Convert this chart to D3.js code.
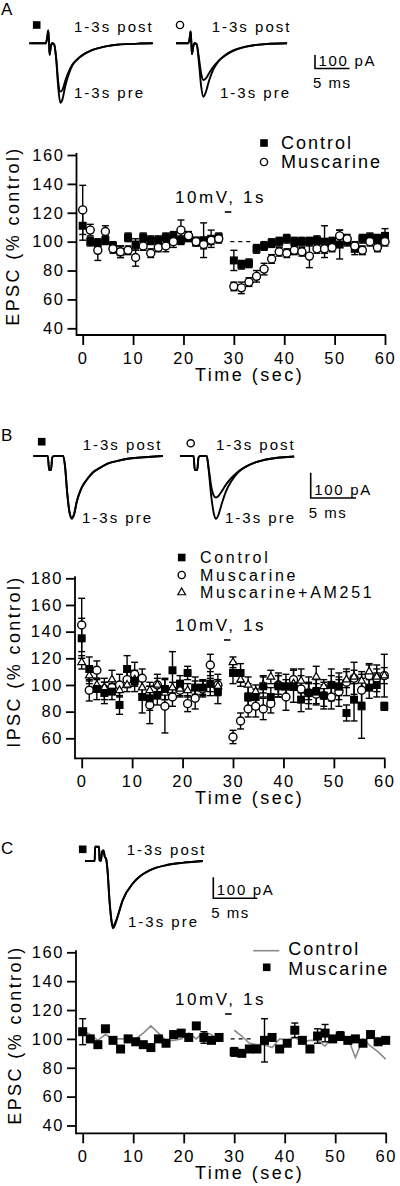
<!DOCTYPE html>
<html><head><meta charset="utf-8">
<script src="https://cdn.jsdelivr.net/npm/d3@7"></script>
<style>
body{margin:0;background:#fff}
svg{display:block}
text{font-family:"Liberation Sans",Arial,Helvetica,sans-serif;fill:#000}
</style>
</head><body>
<svg id="c" width="400" height="1186"></svg>
<script>
// ---------- shared ----------
const timeTicks = [0,10,20,30,40,50,60];
const preT  = [0,1.5,3,4.5,6,7.5,9,10.5,12,13.5,15,16.5,18,19.5,21,22.5,24,25.5,27];
const postT = [30,31.5,33,34.5,36,37.5,39,40.5,42,43.5,45,46.5,48,49.5,51,52.5,54,55.5,57,58.5,60];
const stimWindow = [28.2, 29.5];
const refDash = [29.3, 33.6];

// ---------- panel A ----------
const aYTicks = [40,60,80,100,120,140,160];
const aCtrlPre     = [111,100,99,101,97,93,103,98,103,101,101,103,104,101,103,100,101,102,103];
const aCtrlPreErr  = [10,3,3,3,3,4,3,4,3,3,3,3,3,3,3,3,12,6,3];
const aMusPre      = [122,108,94,107,95,93,94,89,97,92,96,97,100,108,104,100,98,101,102];
const aMusPreErr   = [17,4,7,4,3,4,3,6,3,3,3,4,4,7,3,3,3,3,3];
const aCtrlPost    = [87,84,85,95,97,99,100,102,100,100,100,101,100,100,98,100,95,102,103,102,104];
const aCtrlPostErr = [7,3,3,3,3,3,3,3,3,3,3,3,11,3,10,3,4,3,3,3,5];
const aMusPost     = [69,68,72,76,81,88,93,92,94,93,90,95,95,96,104,102,97,94,100,96,100];
const aMusPostErr  = [3,4,3,4,4,3,3,3,3,3,8,3,3,3,4,3,3,3,3,3,3];
// traces [ms, pA]
const aTracePreL  = [[0,0],[2.4,0],[2.6,45],[2.75,95],[2.85,10],[2.95,-85],[3.1,-30],[3.3,0],[3.6,-8],[3.9,-120],[4.2,-330],[4.5,-440],[4.8,-415],[5.2,-320],[5.7,-230],[6.2,-168],[7,-118],[7.9,-82],[9,-52],[10.3,-32],[11.5,-19],[12.7,-11],[14,-6],[16,-2],[17.9,0]];
const aTracePostL = [[0,0],[2.4,0],[2.6,45],[2.75,95],[2.85,10],[2.95,-85],[3.1,-30],[3.3,0],[3.6,-8],[3.9,-110],[4.2,-290],[4.5,-358],[4.8,-345],[5.2,-280],[5.7,-212],[6.2,-160],[7,-115],[7.9,-80],[9,-52],[10.3,-32],[11.5,-19],[12.7,-11],[14,-6],[16,-2],[17.9,0]];
const aTracePreR  = [[0,0],[1.8,0],[2.0,45],[2.12,88],[2.22,10],[2.32,-80],[2.47,-30],[2.7,0],[3.0,-8],[3.3,-130],[3.65,-320],[3.97,-396],[4.3,-365],[4.8,-275],[5.4,-195],[6.2,-130],[7.2,-84],[8.3,-52],[9.5,-32],[11,-16],[13,-6],[16.1,0]];
const aTracePostR = [[0,0],[1.8,0],[2.0,45],[2.12,88],[2.22,10],[2.32,-80],[2.47,-30],[2.7,0],[3.0,-8],[3.3,-100],[3.65,-225],[3.97,-272],[4.3,-262],[4.8,-222],[5.4,-175],[6.2,-128],[7.2,-88],[8.3,-56],[9.5,-34],[11,-17],[13,-6],[16.1,0]];

// ---------- panel B ----------
const bYTicks = [60,80,100,120,140,160,180];
const bCtrlPre     = [135,112,97,94,95,85,112,103,91,90,92,97,111,101,109,98,98,101,95];
const bCtrlPreErr  = [15,9,8,8,6,7,10,8,12,9,7,8,14,6,5,8,6,9,9];
const bCtrlPost    = [109,109,91,91,99,91,99,99,99,89,94,95,92,100,99,79,89,84,98,100,84];
const bCtrlPostErr = [8,7,10,6,8,7,8,9,12,9,8,9,8,12,10,6,16,24,8,9,3];
const bMusPre      = [145,96,111,97,98,100,104,108,105,85,100,84,91,96,86,90,97,115,100];
const bMusPreErr   = [20,8,7,8,5,8,6,9,7,14,8,20,7,5,6,8,6,8,8];
const bMusPost     = [61,73,82,84,82,86,100,91,104,97,94,93,92,91,95,102,105,96,107,105,107];
const bMusPostErr  = [5,6,6,8,8,7,9,10,8,10,12,8,10,9,11,10,12,9,8,10,16];
const bAmPre       = [117,107,100,98,104,96,100,104,98,96,100,94,98,97,96,98,98,100,99];
const bAmPreErr    = [5,6,5,4,7,5,5,4,5,6,5,5,4,5,5,5,5,5,5];
const bAmPost      = [117,104,100,95,100,106,100,98,101,103,95,106,99,100,98,104,106,103,110,106,107];
const bAmPostErr   = [4,5,6,5,6,5,7,6,5,9,6,8,5,7,6,6,5,7,6,6,6];
const bTracePreL  = [[0,0],[1.6,0],[1.75,-55],[1.95,-56],[2.1,-5],[2.3,0],[3.3,0],[3.5,-40],[3.75,-150],[4.0,-225],[4.25,-248],[4.5,-232],[4.8,-180],[5.3,-128],[5.9,-94],[6.6,-64],[7.4,-46],[8.2,-30],[9.2,-20],[10.4,-11],[11.8,-6],[13,-3],[14.3,0]];
const bTracePostL = [[0,0],[1.6,0],[1.75,-55],[1.95,-56],[2.1,-5],[2.3,0],[3.3,0],[3.5,-40],[3.75,-148],[4.0,-222],[4.25,-244],[4.5,-229],[4.8,-180],[5.3,-128],[5.9,-94],[6.6,-64],[7.4,-46],[8.2,-30],[9.2,-20],[10.4,-11],[11.8,-6],[13,-3],[14.3,0]];
const bTracePreR  = [[0,0],[1.5,0],[1.63,-55],[1.9,-56],[2.05,-5],[2.25,0],[2.95,0],[3.15,-50],[3.45,-160],[3.75,-230],[3.97,-248],[4.25,-232],[4.6,-190],[5.1,-138],[5.7,-98],[6.4,-66],[7.2,-44],[8.1,-28],[9,-18],[10.2,-10],[11.4,-5],[12.6,-2]];
const bTracePostR = [[0,0],[1.5,0],[1.63,-55],[1.9,-56],[2.05,-5],[2.25,0],[2.95,0],[3.15,-45],[3.45,-120],[3.75,-158],[3.97,-164],[4.25,-158],[4.6,-140],[5.1,-112],[5.7,-86],[6.4,-62],[7.2,-43],[8.1,-28],[9,-18],[10.2,-10],[11.4,-5],[12.6,-2]];

// ---------- panel C ----------
const cYTicks = [40,60,80,100,120,140,160];
const cMusPre     = [105,100,96,107,99,93,100,98,96,94,100,97,103,104,101,109,101,99,101];
const cMusPreErr  = [9,2,2,2,2,2,2,2,2,2,2,2,2,2,2,2,4,2,2];
const cMusPost    = [91,90,93,93,99,101,93,97,106,99,93,102,104,100,102,99,100,97,103,98,99];
const cMusPostErr = [3,2,2,2,15,2,2,2,5,2,2,5,6,2,3,2,2,2,2,2,2];
const cCtrlPre    = [106,103,99,103,100,100,100,100,104,109,104,99,99,100,104,100,105,103,98];
const cCtrlPost   = [106,102,97,96,96,94,100,99,101,98,99,99,95,102,100,101,87,100,95,91,86];
const cTracePre  = [[0,0],[1.1,0],[1.15,68],[1.6,68],[1.65,5],[1.8,0],[1.95,45],[2.1,50],[2.25,20],[2.4,10],[2.55,-40],[2.8,-200],[3.05,-300],[3.2,-320],[3.4,-305],[3.6,-281],[4.3,-186],[5.45,-106],[6.4,-68],[7.4,-43],[9.3,-19],[11.2,-8],[13.4,0]];
const cTracePost = [[0,0],[1.1,0],[1.15,68],[1.6,68],[1.65,5],[1.8,0],[1.95,45],[2.1,50],[2.25,20],[2.4,10],[2.55,-40],[2.8,-195],[3.05,-292],[3.2,-312],[3.4,-298],[3.6,-276],[4.3,-184],[5.45,-106],[6.4,-68],[7.4,-43],[9.3,-19],[11.2,-8],[13.4,0]];

const scaleMs = 5, scalePA = 100;

// ---------- drawing ----------
const svg = d3.select("#c");
const FONT = '"Liberation Sans", Arial, Helvetica, sans-serif';

function txt(x, y, s, size, ls, anchor) {
  return svg.append("text").attr("x", x).attr("y", y)
    .attr("font-size", size).attr("letter-spacing", ls)
    .attr("text-anchor", anchor || "start").attr("font-family", FONT).text(s);
}

function chart(o) {
  const x = d3.scaleLinear().domain([0, 60]).range(o.xr);
  const y = d3.scaleLinear().domain(o.yDom).range(o.yR);
  const gy = svg.append("g").attr("transform", `translate(${o.axX},0)`)
    .call(d3.axisLeft(y).tickValues(o.yTicks).tickSize(9).tickPadding(3).tickFormat(d3.format("d")));
  const gx = svg.append("g").attr("transform", `translate(0,${o.axY})`)
    .call(d3.axisBottom(x).tickValues(timeTicks).tickSize(10).tickPadding(7).tickFormat(d3.format("d")));
  [gy, gx].forEach(g => {
    g.select(".domain").remove();
    g.selectAll("line").attr("stroke", "#000").attr("stroke-width", 1.8);
    g.selectAll("text").attr("font-size", 16.5).attr("letter-spacing", 1.6)
      .attr("font-family", FONT).attr("fill", "#000");
  });
  svg.append("line").attr("x1", o.axX).attr("x2", o.axX)
    .attr("y1", y(o.yDom[1]) - 2).attr("y2", o.axY + 0.9)
    .attr("stroke", "#000").attr("stroke-width", 1.8);
  svg.append("line").attr("x1", o.axX).attr("x2", x(60) + 0.9)
    .attr("y1", o.axY).attr("y2", o.axY)
    .attr("stroke", "#000").attr("stroke-width", 1.8);
  // y title
  svg.append("text").attr("transform", `translate(${o.titleX},${o.titleY}) rotate(-90)`)
    .attr("text-anchor", "middle").attr("font-size", 18).attr("letter-spacing", 2.4)
    .attr("font-family", FONT).text(o.title);
  txt(195, o.axY + 46, "Time (sec)", 18, 2.5, "start");
  // stim label
  txt(175, o.stimY, "10mV, 1s", 17, 2.6, "start");
  svg.append("line").attr("x1", x(stimWindow[0])).attr("x2", x(stimWindow[1]))
    .attr("y1", o.stimY + 9).attr("y2", o.stimY + 9)
    .attr("stroke", "#000").attr("stroke-width", 1.6);
  return { x, y };
}

function errBars(x, y, ts, vs, es) {
  const d = d3.zip(ts, vs, es);
  const g = svg.append("g").attr("stroke", "#000").attr("stroke-width", 1.4);
  g.selectAll("line.v").data(d).join("line")
    .attr("x1", a => x(a[0])).attr("x2", a => x(a[0]))
    .attr("y1", a => y(a[1] + a[2])).attr("y2", a => y(a[1] - a[2]));
  g.selectAll("line.t").data(d).join("line")
    .attr("x1", a => x(a[0]) - 3.5).attr("x2", a => x(a[0]) + 3.5)
    .attr("y1", a => y(a[1] + a[2])).attr("y2", a => y(a[1] + a[2]));
  g.selectAll("line.b").data(d).join("line")
    .attr("x1", a => x(a[0]) - 3.5).attr("x2", a => x(a[0]) + 3.5)
    .attr("y1", a => y(a[1] - a[2])).attr("y2", a => y(a[1] - a[2]));
}

function squares(x, y, ts, vs, s) {
  s = s || 8;
  svg.append("g").selectAll("rect").data(d3.zip(ts, vs)).join("rect")
    .attr("x", a => x(a[0]) - s / 2).attr("y", a => y(a[1]) - s / 2)
    .attr("width", s).attr("height", s).attr("fill", "#000");
}
function circles(x, y, ts, vs) {
  svg.append("g").selectAll("circle").data(d3.zip(ts, vs)).join("circle")
    .attr("cx", a => x(a[0])).attr("cy", a => y(a[1])).attr("r", 4)
    .attr("fill", "#fff").attr("stroke", "#000").attr("stroke-width", 1.4);
}
function triangles(x, y, ts, vs) {
  const sym = d3.symbol(d3.symbolTriangle, 26);
  svg.append("g").selectAll("path").data(d3.zip(ts, vs)).join("path")
    .attr("transform", a => `translate(${x(a[0])},${y(a[1])})`).attr("d", sym)
    .attr("fill", "#fff").attr("stroke", "#000").attr("stroke-width", 1.2);
}
function dashRef(x, y) {
  svg.append("line").attr("x1", x(refDash[0])).attr("x2", x(refDash[1]))
    .attr("y1", y(100)).attr("y2", y(100))
    .attr("stroke", "#000").attr("stroke-width", 1.4).attr("stroke-dasharray", "4,4");
}

function trace(ox, oy, kx, ky, data) {
  const tx = d3.scaleLinear().domain([0, 1]).range([ox, ox + kx]);
  const ty = d3.scaleLinear().domain([0, 100]).range([oy, oy - ky * 100]);
  svg.append("path").datum(data)
    .attr("d", d3.line().x(d => tx(d[0])).y(d => ty(d[1])).curve(d3.curveMonotoneX))
    .attr("fill", "none").attr("stroke", "#000").attr("stroke-width", 1.9)
    .attr("stroke-linejoin", "round");
}
function scaleBar(cx, cy, kx, ky) {
  svg.append("path")
    .attr("d", `M${cx},${cy - ky * scalePA}V${cy}H${cx + kx * scaleMs}`)
    .attr("fill", "none").attr("stroke", "#000").attr("stroke-width", 1.6);
  txt(cx + 3.5, cy - 3, scalePA + " pA", 15, 1.7);
  txt(cx - 2, cy + 19.5, scaleMs + " ms", 15, 1.5);
}
function markSquare(cx, cy) {
  svg.append("rect").attr("x", cx - 3.8).attr("y", cy - 3.8).attr("width", 7.6).attr("height", 7.6).attr("fill", "#000");
}
function markCircle(cx, cy) {
  svg.append("circle").attr("cx", cx).attr("cy", cy).attr("r", 3.6)
    .attr("fill", "#fff").attr("stroke", "#000").attr("stroke-width", 1.4);
}
function markTri(cx, cy) {
  svg.append("path").attr("transform", `translate(${cx},${cy})`)
    .attr("d", d3.symbol(d3.symbolTriangle, 26)).attr("fill", "#fff").attr("stroke", "#000").attr("stroke-width", 1.2);
}

// ===== Panel A =====
txt(1, 15, "A", 17, 0);
markSquare(36.7, 25);
trace(29.3, 43.3, 6.9, 0.135, aTracePostL);
trace(29.3, 43.3, 6.9, 0.135, aTracePreL);
txt(74, 31.7, "1-3s post", 15, 2);
txt(74, 98.3, "1-3s pre", 15, 2);
markCircle(180, 25);
trace(176, 43.3, 6.9, 0.135, aTracePostR);
trace(176, 43.3, 6.9, 0.135, aTracePreR);
txt(211.7, 31.7, "1-3s post", 15, 2);
txt(220, 98.3, "1-3s pre", 15, 2);
scaleBar(315, 68.5, 6.9, 0.135);

const A = chart({ xr: [82.7, 385], yDom: [40, 160], yR: [328.3, 155], axX: 76.5, axY: 335,
  yTicks: aYTicks, title: "EPSC (% control)", titleX: 19, titleY: 236, stimY: 203 });
dashRef(A.x, A.y);
errBars(A.x, A.y, preT, aCtrlPre, aCtrlPreErr);
errBars(A.x, A.y, postT, aCtrlPost, aCtrlPostErr);
errBars(A.x, A.y, preT, aMusPre, aMusPreErr);
errBars(A.x, A.y, postT, aMusPost, aMusPostErr);
squares(A.x, A.y, preT, aCtrlPre);
squares(A.x, A.y, postT, aCtrlPost);
circles(A.x, A.y, preT, aMusPre);
circles(A.x, A.y, postT, aMusPost);
markSquare(264, 143);
txt(281, 149, "Control", 18, 2);
markCircle(264, 162);
txt(281, 168, "Muscarine", 18, 2);

// ===== Panel B =====
txt(1, 441, "B", 17, 0);
markSquare(41.7, 441.7);
trace(33.3, 456, 9.06, 0.253, bTracePostL);
trace(33.3, 456, 9.06, 0.253, bTracePreL);
txt(82.7, 450, "1-3s post", 15, 2);
txt(82, 523, "1-3s pre", 15, 2);
markCircle(190.7, 443.3);
trace(180, 456, 9.06, 0.253, bTracePostR);
trace(180, 456, 9.06, 0.253, bTracePreR);
txt(216, 450, "1-3s post", 15, 2);
txt(225, 523, "1-3s pre", 15, 2);
scaleBar(310.7, 498, 9.06, 0.253);

const B = chart({ xr: [81.7, 384.3], yDom: [60, 180], yR: [738.3, 578.3], axX: 75, axY: 758.3,
  yTicks: bYTicks, title: "IPSC (% control)", titleX: 19.5, titleY: 661.5, stimY: 631 });
errBars(B.x, B.y, preT, bCtrlPre, bCtrlPreErr);
errBars(B.x, B.y, postT, bCtrlPost, bCtrlPostErr);
errBars(B.x, B.y, preT, bMusPre, bMusPreErr);
errBars(B.x, B.y, postT, bMusPost, bMusPostErr);
errBars(B.x, B.y, preT, bAmPre, bAmPreErr);
errBars(B.x, B.y, postT, bAmPost, bAmPostErr);
circles(B.x, B.y, preT, bMusPre);
circles(B.x, B.y, postT, bMusPost);
triangles(B.x, B.y, preT, bAmPre);
triangles(B.x, B.y, postT, bAmPost);
squares(B.x, B.y, preT, bCtrlPre);
squares(B.x, B.y, postT, bCtrlPost);
markSquare(181.7, 557.5);
txt(200, 563, "Control", 16, 2.7);
markCircle(181.7, 575);
txt(200, 580.5, "Muscarine", 16, 2.7);
markTri(181.7, 592.5);
txt(200, 598, "Muscarine+AM251", 16, 2.7);

// ===== Panel C =====
txt(1, 854, "C", 17, 0);
markSquare(82.7, 849.3);
trace(85, 861, 8.8, 0.21, cTracePost);
trace(85, 861, 8.8, 0.21, cTracePre);
txt(126.7, 855, "1-3s post", 15, 2);
txt(128, 927, "1-3s pre", 15, 2);
scaleBar(213.3, 898.3, 8.8, 0.21);

const C = chart({ xr: [82.7, 385.7], yDom: [40, 160], yR: [1125.5, 952.3], axX: 76, axY: 1133.3,
  yTicks: cYTicks, title: "EPSC (% control)", titleX: 21, titleY: 1035, stimY: 1005 });
dashRef(C.x, C.y);
const grayLine = d3.line().x(d => C.x(d[0])).y(d => C.y(d[1]));
svg.append("path").datum(d3.zip(preT, cCtrlPre)).attr("d", grayLine)
  .attr("fill", "none").attr("stroke", "#8a8a8a").attr("stroke-width", 1.6);
svg.append("path").datum(d3.zip(postT, cCtrlPost)).attr("d", grayLine)
  .attr("fill", "none").attr("stroke", "#8a8a8a").attr("stroke-width", 1.6);
errBars(C.x, C.y, preT, cMusPre, cMusPreErr);
errBars(C.x, C.y, postT, cMusPost, cMusPostErr);
squares(C.x, C.y, preT, cMusPre, 9);
squares(C.x, C.y, postT, cMusPost, 9);
svg.append("line").attr("x1", 253.3).attr("x2", 279.3).attr("y1", 950.7).attr("y2", 950.7)
  .attr("stroke", "#8a8a8a").attr("stroke-width", 1.6);
txt(288.3, 955, "Control", 18, 2);
markSquare(266.7, 967.3);
txt(288.3, 975, "Muscarine", 18, 2);
</script>
</body></html>
